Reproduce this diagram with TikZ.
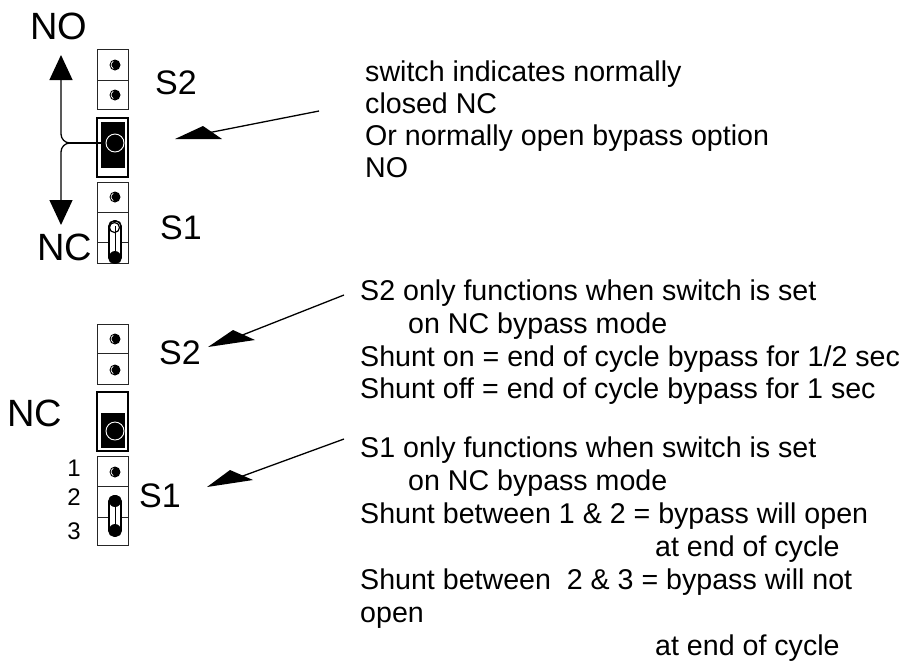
\documentclass[tikz,border=0pt]{standalone}
\usepackage{fontspec}
\setmainfont{Liberation Sans}
\usetikzlibrary{arrows.meta}
\newcommand\jmpdot[2]{%
  \fill[black] (#1,#2) circle (5.5);
  \draw[white, line width=0.7pt] (#1,#2) ++(115:4) arc (115:245:4);
}
\begin{document}
\begin{tikzpicture}[x=1pt,y=-1pt,
  txt/.style={anchor=base west, inner sep=0pt, font=\fontsize{28.6}{33}\selectfont},
  biglab/.style={inner sep=0pt, font=\fontsize{38}{41}\selectfont},
  slab/.style={inner sep=0pt, font=\fontsize{34}{38}\selectfont},
  numlab/.style={inner sep=0pt, font=\fontsize{24}{26}\selectfont},
  cell/.style={draw=black!85, line width=0.9pt, fill=white},
  swbox/.style={draw=black, line width=1.2pt, fill=white},
  ptr/.style={line width=1.3pt},
  vhead/.style={-{Triangle[length=25pt,width=23pt]}},
  ring/.style={draw=white, line width=0.9pt},
  shunt/.style={draw=black, line width=1.6pt, fill=white, rounded corners=5pt}
]
\useasboundingbox (0,0) rectangle (904,662);

% ---------------- top section ----------------
\node[biglab] (noTop) at (58.5,26) {NO};
\node[biglab] (ncTop) at (64.5,247) {NC};
\node[slab] (s2TopLab) at (176,83) {S2};
\node[slab] (s1TopLab) at (181,228) {S1};

% S2 jumper (top)
\draw[cell] (97,49) rectangle (128,109);
\draw[black!85, line width=0.9pt] (97,80) -- (128,80);
\jmpdot{115}{65}
\jmpdot{115}{95}

% switch (top)
\node[swbox, minimum width=31pt, minimum height=59pt, inner sep=0pt] (swTop) at (112.5,147.5) {};
\fill[black] (101,122) rectangle (125,168);
\draw[ring] (115,143) circle (9);
\coordinate (swTopIn) at (101,143);

% S1 jumper (top)
\draw[cell] (97,182) rectangle (128,263);
\draw[black!85, line width=0.9pt] (97,212) -- (128,212);
\draw[black!85, line width=0.9pt] (97,242) -- (128,242);
\jmpdot{115}{197}
\draw[shunt] (109,221) rectangle (121,263);
\draw[black, line width=0.7pt] (115,226) -- (115,258);
\fill[black] (115,257) circle (6);
\draw[black, line width=1.2pt] (114.5,227.5) circle (5);
\draw[white, line width=0.8pt] (114.5,227.5) ++(115:3.4) arc (115:245:3.4);

% junction and NO / NC arrows
\coordinate (jn) at (70,143);
\coordinate (upTip) at (61,55);
\coordinate (dnTip) at (61,225);
\draw[ptr] (swTopIn) -- (jn);
\draw[ptr,vhead] (jn) to[out=180,in=-90] (61,134) -- (upTip);
\draw[ptr,vhead] (jn) to[out=180,in=90] (61,152) -- (dnTip);

% pointer 1
\coordinate (p1far) at (319,111);
\coordinate (p1tip) at (175,139);
\fill[black] (p1tip) -- (203,126) -- (222,139) -- cycle;
\draw[ptr] (p1far) -- (210,132.5);

\node[txt] (t1a) at (365,81) {switch indicates normally};
\node[txt] (t1b) at (365,113) {closed NC};
\node[txt] (t1c) at (365,145) {Or normally open bypass option};
\node[txt] (t1d) at (365,177) {NO};

% ---------------- bottom section ----------------
\node[biglab] (ncBot) at (34.5,413) {NC};
\node[slab] (s2BotLab) at (180,353) {S2};
\node[slab] (s1BotLab) at (160,496) {S1};
\node[numlab] (n1) at (74,468) {1};
\node[numlab] (n2) at (74,497) {2};
\node[numlab] (n3) at (74,531) {3};

% S2 jumper (bottom)
\draw[cell] (97,324) rectangle (128,384);
\draw[black!85, line width=0.9pt] (97,353) -- (128,353);
\jmpdot{115}{339}
\jmpdot{115}{370}

% switch (bottom)
\node[swbox, minimum width=31pt, minimum height=59pt, inner sep=0pt] (swBot) at (112.5,421.5) {};
\fill[black] (101,413) rectangle (125,448);
\draw[ring] (115,431) circle (9);

% S1 jumper (bottom)
\draw[cell] (97,456) rectangle (128,545);
\draw[black!85, line width=0.9pt] (97,486) -- (128,486);
\draw[black!85, line width=0.9pt] (97,517) -- (128,517);
\jmpdot{115}{472}
\draw[shunt] (109,496) rectangle (121,536);
\draw[black, line width=0.7pt] (115,501) -- (115,530);
\fill[black] (115,501) circle (6);
\fill[black] (115,530) circle (6);

% pointer 2
\coordinate (p2far) at (344,295);
\coordinate (p2tip) at (208,347);
\fill[black] (p2tip) -- (233,330) -- (255,340) -- cycle;
\draw[ptr] (p2far) -- (240,336);

% pointer 3
\coordinate (p3far) at (344,439);
\coordinate (p3tip) at (207,487);
\fill[black] (p3tip) -- (230,470) -- (253,480) -- cycle;
\draw[ptr] (p3far) -- (240,477);

\node[txt] (t2a) at (360,300) {S2 only functions when switch is set};
\node[txt] (t2b) at (408,333) {on NC bypass mode};
\node[txt] (t2c) at (360,366) {Shunt on = end of cycle bypass for 1/2 sec};
\node[txt] (t2d) at (360,398) {Shunt off = end of cycle bypass for 1 sec};

\node[txt] (t3a) at (360,457) {S1 only functions when switch is set};
\node[txt] (t3b) at (408,490) {on NC bypass mode};
\node[txt] (t3c) at (360,523) {Shunt between 1 \& 2 = bypass will open};
\node[txt] (t3d) at (655,556) {at end of cycle};
\node[txt] (t3e) at (360,589) {Shunt between\ \ 2 \& 3 = bypass will not};
\node[txt] (t3f) at (360,622) {open};
\node[txt] (t3g) at (655,655) {at end of cycle};
\end{tikzpicture}
\end{document}
